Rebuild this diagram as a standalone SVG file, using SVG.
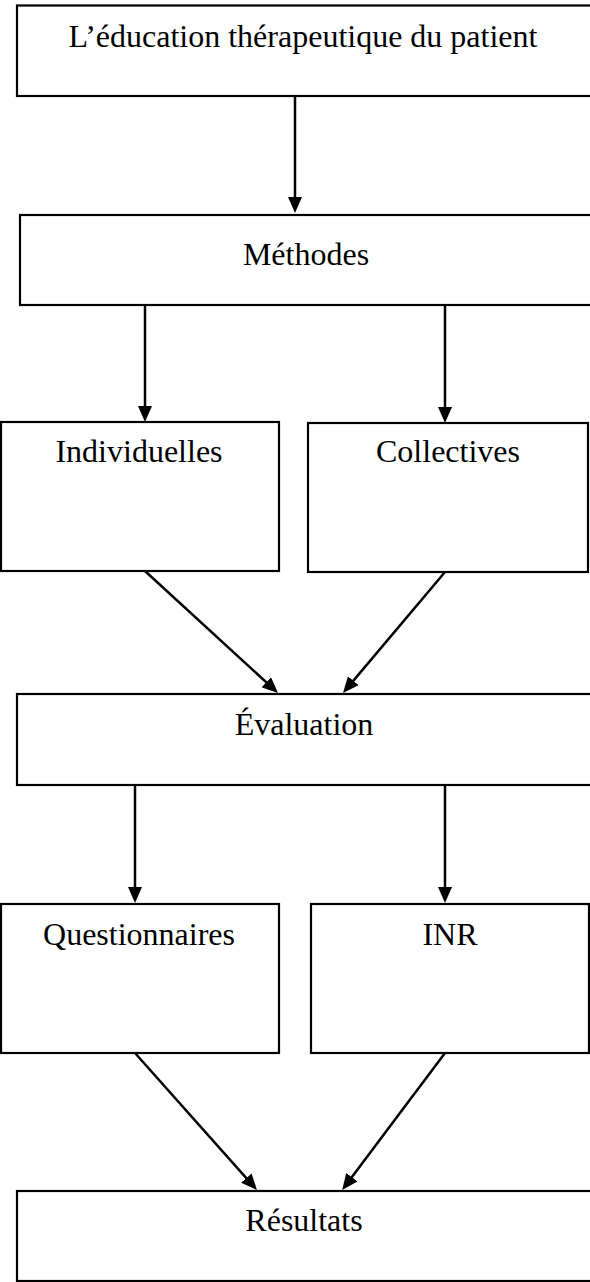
<svg xmlns="http://www.w3.org/2000/svg" width="590" height="1282" viewBox="0 0 590 1282">
  <style>
    .box { fill: #ffffff; stroke: #000000; stroke-width: 2.2; }
    .label { font-family: "Liberation Serif", "Times New Roman", serif; font-size: 32px; fill: #000000; text-anchor: middle; }
    .link { stroke: #000000; stroke-width: 2.5; fill: none; marker-end: url(#head); }
  </style>
  <defs>
    <marker id="head" markerUnits="userSpaceOnUse" markerWidth="16" markerHeight="14" refX="7" refY="7" orient="auto">
      <path d="M0,0 L16,7 L0,14 Z" fill="#000000"/>
    </marker>
  </defs>
  <rect width="590" height="1282" fill="#ffffff"/>

  <g id="node-education">
    <rect class="box" x="17" y="5.5" width="580" height="90.5"/>
    <text class="label" x="303" y="47">L’éducation thérapeutique du patient</text>
  </g>
  <g id="node-methodes">
    <rect class="box" x="20" y="215" width="577" height="90"/>
    <text class="label" x="306" y="265">Méthodes</text>
  </g>
  <g id="node-individuelles">
    <rect class="box" x="1" y="422" width="278" height="149"/>
    <text class="label" x="139" y="462">Individuelles</text>
  </g>
  <g id="node-collectives">
    <rect class="box" x="308" y="423" width="280" height="149"/>
    <text class="label" x="448" y="462">Collectives</text>
  </g>
  <g id="node-evaluation">
    <rect class="box" x="17" y="694" width="580" height="91"/>
    <text class="label" x="304" y="735">Évaluation</text>
  </g>
  <g id="node-questionnaires">
    <rect class="box" x="1" y="904" width="278" height="149"/>
    <text class="label" x="139" y="945">Questionnaires</text>
  </g>
  <g id="node-inr">
    <rect class="box" x="311" y="904" width="278" height="149"/>
    <text class="label" x="450" y="945">INR</text>
  </g>
  <g id="node-resultats">
    <rect class="box" x="17" y="1191" width="580" height="90"/>
    <text class="label" x="304" y="1231">Résultats</text>
  </g>

  <g id="connectors">
    <line class="link" x1="295" y1="96" x2="295" y2="204"/>
    <line class="link" x1="145" y1="305" x2="145" y2="413"/>
    <line class="link" x1="445" y1="305" x2="445" y2="414"/>
    <line class="link" x1="145" y1="571" x2="271.4" y2="687"/>
    <line class="link" x1="445" y1="572" x2="348.8" y2="686.1"/>
    <line class="link" x1="135" y1="785" x2="135" y2="894"/>
    <line class="link" x1="445" y1="785" x2="445" y2="894"/>
    <line class="link" x1="135" y1="1053" x2="251" y2="1183.3"/>
    <line class="link" x1="445" y1="1053" x2="347.6" y2="1182.8"/>
  </g>
</svg>
